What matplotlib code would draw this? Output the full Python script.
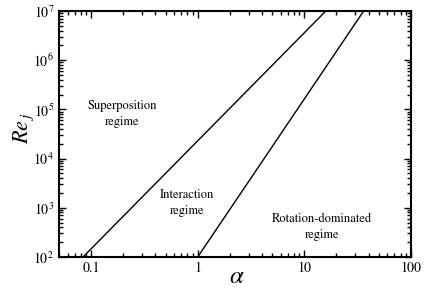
import numpy as np
import matplotlib.pyplot as plt

# regime boundaries in (alpha, Re_j)
line1_alpha = [0.084, 15.9]
line1_re = [1e2, 1e7]
line2_alpha = [1.0, 36.0]
line2_re = [1e2, 1e7]

labels = ['Superposition\nregime', 'Interaction\nregime', 'Rotation-dominated\nregime']
label_alpha = [0.196, 0.79, 14.7]
label_re = [8.1e4, 1.25e3, 4.1e2]

plt.rcParams['font.family'] = 'STIXGeneral'
plt.rcParams['mathtext.fontset'] = 'stix'

fig = plt.figure(figsize=(4.25, 2.89), dpi=100)
ax = fig.add_axes([0.139, 0.111, 0.828, 0.851])

ax.plot(line1_alpha, line1_re, color='black', lw=1.0)
ax.plot(line2_alpha, line2_re, color='black', lw=1.0)

ax.set_xscale('log')
ax.set_yscale('log')
ax.set_xlim(0.05, 100)
ax.set_ylim(1e2, 1e7)

for txt, a, r in zip(labels, label_alpha, label_re):
    ax.text(a, r, txt, ha='center', va='center', fontsize=9, linespacing=1.45)

ax.set_xticks([0.1, 1, 10, 100])
ax.set_xticklabels(['0.1', '1', '10', '100'])
ax.tick_params(which='both', direction='in', top=True, right=True, labelsize=10, width=1.0)
ax.tick_params(which='major', length=5)
ax.tick_params(which='minor', length=3)
for s in ax.spines.values():
    s.set_linewidth(1.5)

ax.set_xlabel(r'$\alpha$', fontsize=18, va='center')
ax.xaxis.set_label_coords(0.506, -0.08)
ax.set_ylabel(r'$Re_{\,j}$', fontsize=16, va='center')
ax.yaxis.set_label_coords(-0.1, 0.524)

fig.savefig('out.png', dpi=100)
